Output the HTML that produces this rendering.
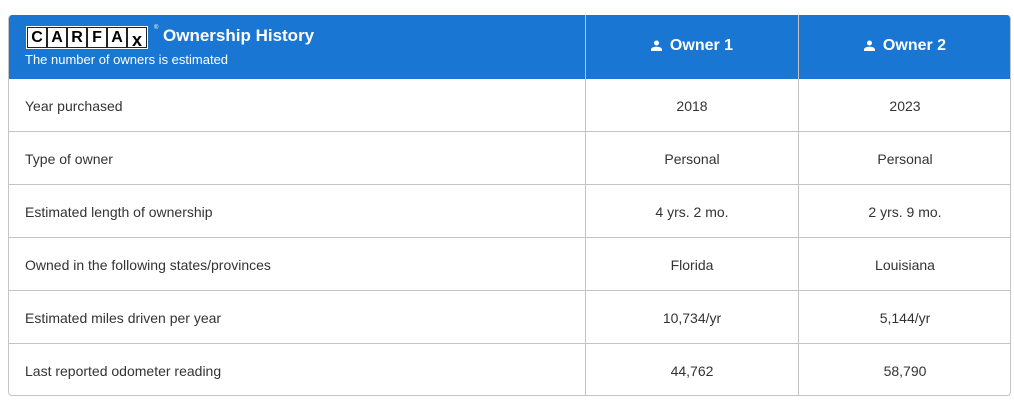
<!DOCTYPE html>
<html><head><style>
body{margin:0;background:#fff;width:1014px;height:404px;overflow:hidden;font-family:"Liberation Sans",sans-serif;}
.t{position:absolute;left:8px;top:15px;width:1003px;height:381px;border:1px solid #c4c4c4;border-top:none;border-radius:4px;box-sizing:border-box;overflow:hidden}
.h{position:absolute;left:0;top:0;width:100%;height:64px;background:#1976d2}
.vl{position:absolute;top:0;bottom:0;width:1px;background:#c4c4c4}
.hl{position:absolute;left:0;right:0;height:1px;background:#c4c4c4}
.c{position:absolute;font-size:14px;color:#333;}
.ctr{text-align:center}
.oh{position:absolute;top:22px;color:#fff;font-weight:bold;font-size:16px;}
.oh svg{vertical-align:-1px;margin-right:8px}
.logo{position:absolute;left:17px;top:11px;height:23px;display:flex;background:#222;border:1px solid #fff;padding:1px;box-sizing:border-box}
.logo span{width:18px;height:19px;background:#fff;color:#000;font-weight:bold;font-size:16px;line-height:19px;text-align:center;margin-right:2px}
</style></head><body>
<div class="t">
<div class="h"></div>
<div class="logo"><span>C</span><span>A</span><span>R</span><span>F</span><span>A</span><span style="font-size:18px;line-height:24px;margin:0">x</span></div>
<div style="position:absolute;left:145px;top:10px;color:#fff;font-size:6px">®</div>
<div style="position:absolute;left:154px;top:11px;color:#fff;font-weight:bold;font-size:17px">Ownership History</div>
<div style="position:absolute;left:16px;top:37px;color:#fff;font-size:13px">The number of owners is estimated</div>
<div class="vl" style="left:576px"></div><div class="vl" style="left:789px"></div>
<div class="oh" style="left:577px;width:212px;text-align:center"><svg width="11" height="11" viewBox="0 0 11 11"><circle cx="5.5" cy="3" r="2.5" fill="#fff"/><path d="M0 11 V9.5 C0 7.5 3 6.7 5.5 6.7 S11 7.5 11 9.5 V11Z" fill="#fff"/></svg>Owner 1</div>
<div class="oh" style="left:790px;width:212px;text-align:center"><svg width="11" height="11" viewBox="0 0 11 11"><circle cx="5.5" cy="3" r="2.5" fill="#fff"/><path d="M0 11 V9.5 C0 7.5 3 6.7 5.5 6.7 S11 7.5 11 9.5 V11Z" fill="#fff"/></svg>Owner 2</div>
<div class="hl" style="top:116px"></div><div class="hl" style="top:169px"></div><div class="hl" style="top:222px"></div><div class="hl" style="top:275px"></div><div class="hl" style="top:328px"></div>
<div class="c" style="left:16px;top:83px">Year purchased</div>
<div class="c" style="left:16px;top:136px">Type of owner</div>
<div class="c" style="left:16px;top:189px">Estimated length of ownership</div>
<div class="c" style="left:16px;top:242px">Owned in the following states/provinces</div>
<div class="c" style="left:16px;top:295px">Estimated miles driven per year</div>
<div class="c" style="left:16px;top:348px">Last reported odometer reading</div>
<div class="c ctr" style="left:577px;width:212px;top:83px">2018</div>
<div class="c ctr" style="left:577px;width:212px;top:136px">Personal</div>
<div class="c ctr" style="left:577px;width:212px;top:189px">4 yrs. 2 mo.</div>
<div class="c ctr" style="left:577px;width:212px;top:242px">Florida</div>
<div class="c ctr" style="left:577px;width:212px;top:295px">10,734/yr</div>
<div class="c ctr" style="left:577px;width:212px;top:348px">44,762</div>
<div class="c ctr" style="left:790px;width:212px;top:83px">2023</div>
<div class="c ctr" style="left:790px;width:212px;top:136px">Personal</div>
<div class="c ctr" style="left:790px;width:212px;top:189px">2 yrs. 9 mo.</div>
<div class="c ctr" style="left:790px;width:212px;top:242px">Louisiana</div>
<div class="c ctr" style="left:790px;width:212px;top:295px">5,144/yr</div>
<div class="c ctr" style="left:790px;width:212px;top:348px">58,790</div>
</div>
</body></html>
